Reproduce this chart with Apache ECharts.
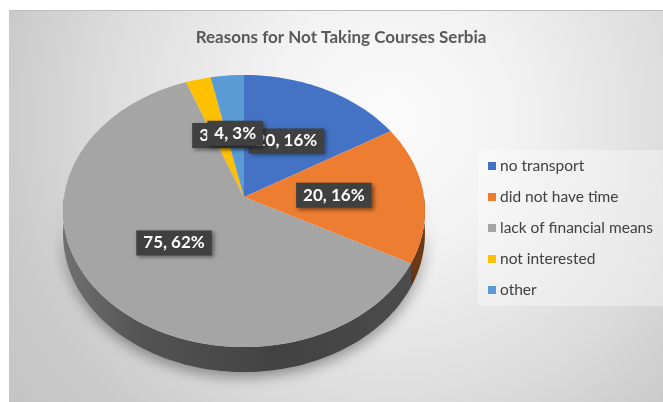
<!DOCTYPE html>
<html>
<head>
<meta charset="utf-8">
<script src="https://cdn.jsdelivr.net/npm/echarts@6/dist/echarts.min.js"></script>
<style>
  html, body { margin: 0; padding: 0; background: #ffffff; }
  #chart { width: 663px; height: 402px; }
</style>
</head>
<body>
<div id="chart"></div>
<script>
// Reasons given for not taking courses (Serbia)
const categories = ['no transport', 'did not have time', 'lack of financial means', 'not interested', 'other'];
const values = [20, 20, 75, 3, 4];
const colors = ['#4472C4', '#ED7D31', '#A5A5A5', '#FFC000', '#5B9BD5'];
const titleText = 'Reasons for Not Taking Courses Serbia';

const total = values.reduce((s, v) => s + v, 0);
const startAngles = [];
values.reduce((acc, v, i) => { startAngles[i] = acc; return acc + v; }, 0);

// Whole-number percentages that add up to 100 (largest remainder)
const percents = (function () {
  const raw = values.map(v => v / total * 100);
  const out = raw.map(Math.floor);
  let left = 100 - out.reduce((s, v) => s + v, 0);
  raw.map((r, i) => [r - Math.floor(r), i])
     .sort((a, b) => b[0] - a[0])
     .forEach(([, i]) => { if (left > 0) { out[i] += 1; left -= 1; } });
  return out;
})();

// Tilted 3-D pie: disc projected with a mild perspective, extruded downwards.
const PIE = { cx: 244, cy: 197, kx: 180, ky: 134.6, persp: 0.103, depth: 22.4 };
const FONT = 'Lato, "Open Sans", sans-serif';

function project(deg, f, drop) {
  const t = deg * Math.PI / 180;
  const X = f * Math.sin(t), Z = f * Math.cos(t);
  const s = 1 / (1 + PIE.persp * Z);
  return [PIE.cx + PIE.kx * X * s, PIE.cy - PIE.ky * Z * s + drop * s];
}

function arcPoints(a0, a1, drop) {
  const pts = [];
  const n = Math.max(2, Math.ceil((a1 - a0) / 1.5));
  for (let j = 0; j <= n; j++) pts.push(project(a0 + (a1 - a0) * j / n, 1, drop));
  return pts;
}

function shade(hex, k) {
  const n = parseInt(hex.slice(1), 16);
  const r = Math.round(((n >> 16) & 255) * k);
  const g = Math.round(((n >> 8) & 255) * k);
  const b = Math.round((n & 255) * k);
  return 'rgb(' + r + ',' + g + ',' + b + ')';
}

function renderSlice(i) {
  return function (params, api) {
    const v = api.value(0);
    const a0 = startAngles[i] / total * 360;
    const a1 = (startAngles[i] + v) / total * 360;
    const color = api.visual('color');
    const children = [];

    // front wall (only the part facing the viewer)
    const s0 = Math.max(a0, 90), s1 = Math.min(a1, 270);
    if (s1 > s0) {
      const topRim = arcPoints(s0, s1, 0);
      const botRim = arcPoints(s0, s1, PIE.depth).reverse();
      children.push({
        type: 'polygon',
        z2: 0,
        shape: { points: topRim.concat(botRim) },
        style: {
          fill: {
            type: 'linear', global: true,
            x: PIE.cx - PIE.kx, y: 0, x2: PIE.cx + PIE.kx, y2: 0,
            colorStops: [
              { offset: 0, color: shade(colors[i], 0.68) },
              { offset: 0.22, color: shade(colors[i], 0.50) },
              { offset: 0.6, color: shade(colors[i], 0.40) },
              { offset: 1, color: shade(colors[i], 0.46) }
            ]
          },
          shadowBlur: 14,
          shadowColor: 'rgba(0,0,0,0.38)',
          shadowOffsetY: 5
        }
      });
    }

    // top face
    children.push({
      type: 'polygon',
      z2: 1,
      shape: { points: [[PIE.cx, PIE.cy]].concat(arcPoints(a0, a1, 0)) },
      style: { fill: color }
    });

    // data label: "value, percent"
    const mid = project((a0 + a1) / 2, 0.5, 0);
    children.push({
      type: 'text',
      z2: 10 + i,
      x: mid[0],
      y: mid[1],
      style: {
        text: v + ', ' + percents[i] + '%',
        fill: '#ffffff',
        font: 'bold 17px ' + FONT,
        align: 'center',
        verticalAlign: 'middle',
        backgroundColor: '#404040',
        padding: [4, 7, 4, 7],
        shadowBlur: 4,
        shadowColor: 'rgba(0,0,0,0.45)',
        shadowOffsetX: 2,
        shadowOffsetY: 2
      }
    });

    return { type: 'group', children: children };
  };
}

const chart = echarts.init(document.getElementById('chart'), null, { renderer: 'canvas' });

chart.setOption({
  animation: false,
  color: colors,
  graphic: [
    {
      type: 'rect',
      z: -10,
      shape: { x: 9, y: 10, width: 654, height: 392 },
      style: {
        fill: {
          type: 'radial', global: true, x: 390, y: 120, r: 480,
          colorStops: [
            { offset: 0, color: '#fbfbfb' },
            { offset: 0.25, color: '#f3f3f3' },
            { offset: 0.6, color: '#dcdcdc' },
            { offset: 0.82, color: '#cacaca' },
            { offset: 1, color: '#c4c4c4' }
          ]
        }
      }
    },
    {
      type: 'line',
      z: -9,
      shape: { x1: 9, y1: 10.5, x2: 663, y2: 10.5 },
      style: { stroke: '#bdbdbd', lineWidth: 1 }
    }
  ],
  title: {
    text: titleText,
    left: 341,
    top: 29,
    textAlign: 'center',
    padding: 0,
    textStyle: { fontFamily: FONT, fontSize: 17, fontWeight: 'bold', color: '#595959' }
  },
  legend: {
    orient: 'vertical',
    left: 478,
    top: 150,
    padding: [8, 10, 8, 10],
    itemGap: 15,
    itemWidth: 8,
    itemHeight: 8,
    icon: 'rect',
    backgroundColor: 'rgba(255,255,255,0.35)',
    data: categories,
    textStyle: { fontFamily: FONT, fontSize: 15.5, color: '#404040', lineHeight: 16, padding: [0, 0, 0, -1] }
  },
  series: categories.map((name, i) => ({
    type: 'custom',
    name: name,
    coordinateSystem: 'none',
    renderItem: renderSlice(i),
    data: [[values[i]]]
  }))
});
</script>
</body>
</html>
